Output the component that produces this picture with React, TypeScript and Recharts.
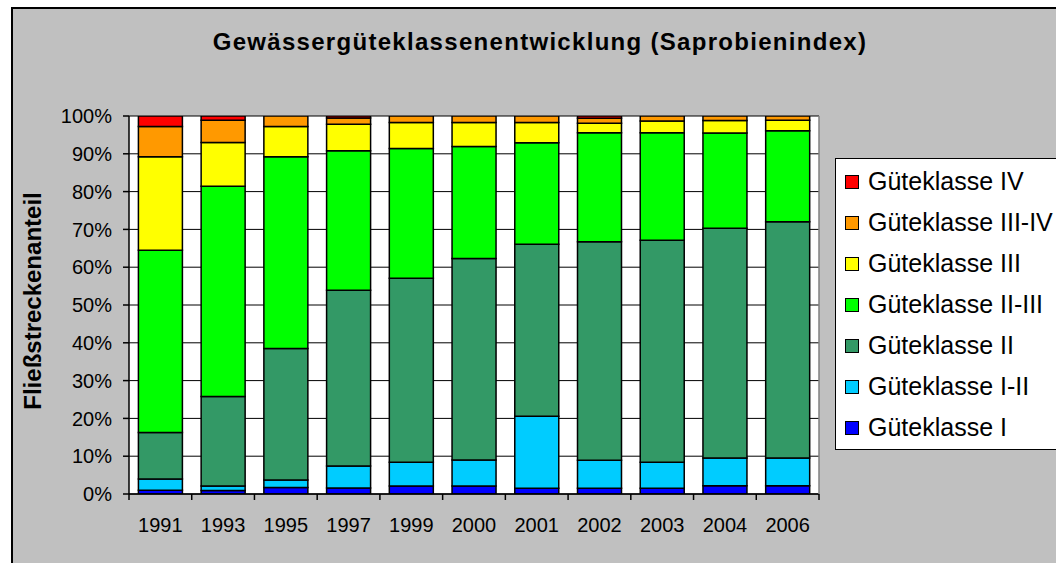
import { BarChart, Bar, XAxis, YAxis, CartesianGrid, Legend } from "recharts"

const years = ["1991", "1993", "1995", "1997", "1999", "2000", "2001", "2002", "2003", "2004", "2006"]
const klasseI = [1.0, 0.9, 1.7, 1.6, 2.1, 2.1, 1.5, 1.5, 1.5, 2.2, 2.2]
const klasseI_II = [3.0, 1.2, 2.0, 5.8, 6.3, 6.9, 19.1, 7.4, 6.9, 7.3, 7.3]
const klasseII = [12.3, 23.7, 34.8, 46.5, 48.7, 53.3, 45.5, 57.8, 58.7, 60.8, 62.5]
const klasseII_III = [48.2, 55.6, 50.7, 36.9, 34.3, 29.6, 26.8, 28.9, 28.5, 25.2, 24.1]
const klasseIII = [24.7, 11.6, 8.0, 7.0, 6.9, 6.4, 5.4, 2.5, 3.1, 3.3, 2.8]
const klasseIII_IV = [8.0, 5.9, 2.8, 1.7, 1.7, 1.7, 1.7, 1.3, 1.3, 1.2, 1.1]
const klasseIV = [2.8, 1.1, 0, 0.5, 0, 0, 0, 0.6, 0, 0, 0]
const yTicks = [0, 10, 20, 30, 40, 50, 60, 70, 80, 90, 100]

const series = [
  { key: "I", name: "Güteklasse I", values: klasseI, color: "#0000FF" },
  { key: "I_II", name: "Güteklasse I-II", values: klasseI_II, color: "#00CCFF" },
  { key: "II", name: "Güteklasse II", values: klasseII, color: "#339966" },
  { key: "II_III", name: "Güteklasse II-III", values: klasseII_III, color: "#00FF00" },
  { key: "III", name: "Güteklasse III", values: klasseIII, color: "#FFFF00" },
  { key: "III_IV", name: "Güteklasse III-IV", values: klasseIII_IV, color: "#FF9900" },
  { key: "IV", name: "Güteklasse IV", values: klasseIV, color: "#FF0000" },
]

const data = years.map((year, i) => {
  const row: Record<string, string | number> = { year }
  series.forEach((s) => {
    row[s.key] = s.values[i]
  })
  return row
})

const FONT = "'Liberation Sans', Arial, sans-serif"
const W = 1056
const H = 563
const margin = { top: 116, right: 236, bottom: 39, left: 0 }
const PLOT_W = W - margin.right - 1 - 129
const BAND = PLOT_W / years.length

function YearTick(props: any) {
  const { x, y, payload, index } = props
  return (
    <g>
      <line x1={x - BAND / 2} x2={x - BAND / 2} y1={y} y2={y + 6} stroke="#000" strokeWidth={1.5} />
      {index === years.length - 1 && (
        <line x1={x + BAND / 2} x2={x + BAND / 2} y1={y} y2={y + 6} stroke="#000" strokeWidth={1.5} />
      )}
      <text x={x} y={y + 38} textAnchor="middle" fill="#000" fontSize={20} fontFamily={FONT}>
        {payload.value}
      </text>
    </g>
  )
}

function LegendBox(props: any) {
  const items = [...(props.payload || [])].reverse()
  return (
    <div
      style={{
        width: 232,
        height: 292,
        background: "#fff",
        border: "1.5px solid #000",
        boxSizing: "border-box",
        paddingTop: 2,
        fontFamily: FONT,
      }}
    >
      {items.map((it: any) => (
        <div key={it.value} style={{ height: 41, display: "flex", alignItems: "center", paddingLeft: 9 }}>
          <span
            style={{
              display: "inline-block",
              width: 14,
              height: 14,
              boxSizing: "border-box",
              background: it.color,
              border: "1.5px solid #000",
              marginRight: 9,
            }}
          />
          <span style={{ fontSize: 25, color: "#000", whiteSpace: "nowrap" }}>{it.value}</span>
        </div>
      ))}
    </div>
  )
}

export default function App() {
  return (
    <div style={{ position: "absolute", left: 0, top: 0, width: W, height: H, background: "#fff", overflow: "hidden" }}>
      <div
        style={{
          position: "absolute",
          left: 11,
          top: 7,
          width: W,
          height: H,
          background: "#C0C0C0",
          borderLeft: "2px solid #000",
          borderTop: "2px solid #000",
        }}
      />
      <div
        style={{
          position: "absolute",
          left: 0,
          top: 30,
          width: 1080,
          textAlign: "center",
          fontFamily: FONT,
          fontWeight: "bold",
          fontSize: 24,
          lineHeight: "24px",
          letterSpacing: 1.3,
          color: "#000",
          whiteSpace: "nowrap",
        }}
      >
        Gewässergüteklassenentwicklung (Saprobienindex)
      </div>
      <div style={{ position: "absolute", left: 0, top: 0 }}>
        <BarChart width={W} height={H} data={data} margin={margin} barCategoryGap="15%">
          <CartesianGrid horizontal vertical={false} stroke="#000" strokeWidth={1} fill="#fff" fillOpacity={1} />
          <XAxis
            dataKey="year"
            height={30}
            tickSize={0}
            tickMargin={0}
            tickLine={false}
            axisLine={{ stroke: "#000", strokeWidth: 1.5 }}
            tick={<YearTick />}
            interval={0}
          />
          <YAxis
            domain={[0, 100]}
            ticks={yTicks}
            interval={0}
            width={129}
            tickSize={6}
            tickMargin={11}
            tickFormatter={(v: number) => `${v}%`}
            axisLine={{ stroke: "#000", strokeWidth: 1.5 }}
            tickLine={{ stroke: "#000", strokeWidth: 1.5 }}
            tick={{ fill: "#000", fontSize: 20, fontFamily: FONT }}
            allowDataOverflow
            label={{
              value: "Fließstreckenanteil",
              content: () => (
                <text
                  x={32}
                  y={301}
                  transform="rotate(-90, 32, 301)"
                  textAnchor="middle"
                  dominantBaseline="central"
                  fill="#000"
                  fontSize={24}
                  fontWeight="bold"
                  fontFamily={FONT}
                >
                  Fließstreckenanteil
                </text>
              ),
            }}
          />
          <YAxis
            yAxisId="r"
            orientation="right"
            width={1}
            domain={[0, 100]}
            tick={false}
            tickLine={false}
            axisLine={{ stroke: "#808080", strokeWidth: 1.5 }}
          />
          {series.map((s) => (
            <Bar
              key={s.key}
              dataKey={s.key}
              name={s.name}
              stackId="a"
              fill={s.color}
              stroke="#000"
              strokeWidth={1.5}
              isAnimationActive={false}
            />
          ))}
          <Legend
            layout="vertical"
            align="center"
            verticalAlign="middle"
            wrapperStyle={{ left: 835, top: 158, width: 232, height: 292 }}
            content={<LegendBox />}
          />
        </BarChart>
      </div>
    </div>
  )
}
